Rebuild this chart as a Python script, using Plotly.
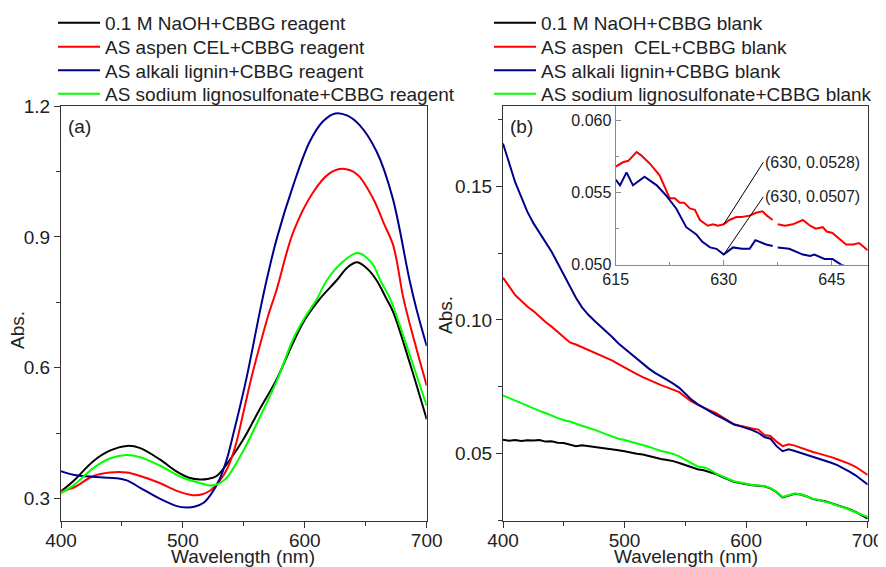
import plotly.graph_objects as go

# ---------------- Panel (a): reagent spectra ----------------
wl_a_black = [400, 410, 426.5, 440, 454, 465, 481, 495, 505, 514, 520, 527.7, 540, 549.6, 563, 577, 590, 600, 612, 626, 635, 643, 652, 659, 667, 672.6, 686, 700]
abs_a_black = [0.317, 0.34, 0.386, 0.41, 0.421, 0.416, 0.39, 0.362, 0.348, 0.344, 0.345, 0.352, 0.395, 0.436, 0.505, 0.574, 0.655, 0.71, 0.757, 0.80, 0.830, 0.842, 0.825, 0.80, 0.758, 0.727, 0.612, 0.482]

wl_a_red = [400, 410, 426.5, 440, 454, 465, 481, 495, 508.5, 516, 523, 530, 536.6, 543, 549.6, 556, 563, 570, 577, 590.5, 607, 620, 631, 643, 656, 665, 672.6, 681, 690, 700]
abs_a_red = [0.317, 0.325, 0.352, 0.36, 0.36, 0.352, 0.336, 0.318, 0.308, 0.31, 0.32, 0.34, 0.37, 0.42, 0.497, 0.575, 0.65, 0.72, 0.78, 0.911, 1.003, 1.045, 1.056, 1.043, 0.988, 0.93, 0.88, 0.758, 0.66, 0.559]

wl_a_blue = [400, 410, 426.5, 445, 454, 465, 481, 495, 503, 510, 516.7, 523, 530, 536, 541, 552, 563, 568.6, 577, 590.5, 604, 615, 625, 635, 645, 659, 672, 686, 692, 700]
abs_a_blue = [0.363, 0.355, 0.35, 0.347, 0.342, 0.325, 0.30, 0.283, 0.28, 0.282, 0.29, 0.31, 0.344, 0.39, 0.444, 0.574, 0.727, 0.80, 0.896, 1.018, 1.118, 1.165, 1.183, 1.178, 1.156, 1.095, 0.99, 0.80, 0.73, 0.65]

wl_a_green = [400, 410, 426.5, 440, 454, 465, 481, 500, 514, 523, 530, 536.6, 549.6, 563, 577, 590.5, 600, 610, 618, 630, 643.4, 655, 662, 670, 686, 700]
abs_a_green = [0.313, 0.33, 0.37, 0.392, 0.40, 0.395, 0.376, 0.348, 0.336, 0.33, 0.335, 0.35, 0.41, 0.486, 0.57, 0.666, 0.715, 0.758, 0.80, 0.84, 0.863, 0.84, 0.80, 0.758, 0.63, 0.513]

names_a = ["0.1 M NaOH+CBBG reagent", "AS aspen CEL+CBBG reagent",
           "AS alkali lignin+CBBG reagent", "AS sodium lignosulfonate+CBBG reagent"]

# ---------------- Panel (b): blank spectra ----------------
wl_b = list(range(400, 701, 5))
abs_b_black = [0.0552, 0.0548, 0.0551, 0.0547, 0.0550, 0.0549, 0.0551, 0.0545, 0.0546, 0.0541,
               0.0540, 0.0533, 0.0528, 0.0531, 0.0528, 0.0527, 0.0523, 0.0521, 0.0516, 0.0513,
               0.0509, 0.0504, 0.0500, 0.0497, 0.0491, 0.0485, 0.0480, 0.0476, 0.0472, 0.0465,
               0.0458, 0.0449, 0.0442, 0.0438, 0.0432, 0.0424, 0.0413, 0.0404, 0.0395, 0.0390,
               0.0385, 0.0382, 0.0380, 0.0378, 0.0370, 0.0356, 0.0336, 0.0344, 0.0350, 0.0347,
               0.0340, 0.0330, 0.0326, 0.0322, 0.0315, 0.0308, 0.0301, 0.0292, 0.0282, 0.0270, 0.0257]
abs_b_red = [0.1158, 0.1125, 0.1093, 0.1072, 0.1050, 0.1033, 0.1012, 0.0992, 0.0975, 0.0955,
             0.0934, 0.0916, 0.0908, 0.0898, 0.0889, 0.0878, 0.0868, 0.0860, 0.0848, 0.0835,
             0.0822, 0.0808, 0.0797, 0.0786, 0.0775, 0.0765, 0.0756, 0.0748, 0.0740, 0.0730,
             0.0712, 0.0695, 0.0683, 0.0671, 0.0662, 0.0652, 0.0638, 0.0622, 0.0610, 0.0604,
             0.0598, 0.0594, 0.0590, 0.0570, 0.0566, 0.0545, 0.0528, 0.0535, 0.0530, 0.0522,
             0.0512, 0.0506, 0.0500, 0.0494, 0.0487, 0.0479, 0.0471, 0.0462, 0.0451, 0.0436, 0.0420]
abs_b_blue = [0.1660, 0.1585, 0.1515, 0.1460, 0.1405, 0.1362, 0.1325, 0.1290, 0.1255, 0.1212,
              0.1168, 0.1125, 0.1083, 0.1047, 0.1020, 0.0998, 0.0978, 0.0955, 0.0935, 0.0912,
              0.0893, 0.0876, 0.0855, 0.0835, 0.0818, 0.0802, 0.0790, 0.0776, 0.0762, 0.0746,
              0.0724, 0.0702, 0.0685, 0.0671, 0.0660, 0.0645, 0.0634, 0.0620, 0.0609, 0.0603,
              0.0596, 0.0588, 0.0578, 0.0562, 0.0556, 0.0528, 0.0509, 0.0516, 0.0510, 0.0503,
              0.0496, 0.0488, 0.0481, 0.0474, 0.0466, 0.0457, 0.0446, 0.0433, 0.0419, 0.0402, 0.0385]
abs_b_green = [0.0718, 0.0708, 0.0700, 0.0688, 0.0678, 0.0669, 0.0660, 0.0652, 0.0641, 0.0633,
               0.0625, 0.0620, 0.0612, 0.0603, 0.0597, 0.0590, 0.0580, 0.0572, 0.0564, 0.0556,
               0.0551, 0.0545, 0.0540, 0.0533, 0.0526, 0.0518, 0.0510, 0.0505, 0.0499, 0.0490,
               0.0478, 0.0466, 0.0452, 0.0449, 0.0440, 0.0426, 0.0415, 0.0406, 0.0397, 0.0392,
               0.0387, 0.0383, 0.0381, 0.0379, 0.0371, 0.0357, 0.0338, 0.0345, 0.0351, 0.0348,
               0.0340, 0.0331, 0.0327, 0.0321, 0.0314, 0.0306, 0.0299, 0.0291, 0.0281, 0.0272, 0.0263]

names_b = ["0.1 M NaOH+CBBG blank", "AS aspen  CEL+CBBG blank",
           "AS alkali lignin+CBBG blank", "AS sodium lignosulfonate+CBBG blank"]

# ---------------- Inset (zoom of panel b, 615-650 nm) ----------------
wl_in_red = [615, 616, 616.75, 617.9, 618.5, 619.75, 621.1, 622, 622.5, 623.2, 623.9, 624.5, 625.3, 626, 626.7,
             627.8, 628.5, 629.2, 630, 630.8, 631.75, 632.5, 633.6, 634.5, 635.4, 636, 636.8, None,
             637.5, 638.5, 639.6, 641, 642, 642.8, 643.75, 644.3, 645.1, 646, 647, 648, 648.8, 650]
abs_in_red = [0.0568, 0.0571, 0.0572, 0.0578, 0.0576, 0.0570, 0.0562, 0.0552, 0.0546, 0.0546, 0.0543, 0.0543, 0.0539, 0.0538, 0.0531,
              0.0527, 0.0528, 0.0527, 0.0528, 0.0531, 0.0533, 0.0533, 0.0534, 0.0536, 0.0537, 0.0534, 0.0531, None,
              0.0528, 0.0527, 0.0528, 0.0531, 0.0527, 0.0525, 0.0526, 0.0523, 0.0522, 0.0518, 0.0514, 0.0514, 0.0515, 0.0510]
wl_in_blue = [615, 615.6, 616.5, 617.4, 619, 620.7, 622, 623.4, 624.8, 626.2, 627, 628.1, 629, 630, 631.3, 632.5,
              633.6, 634.4, 635.9, 636.8, None, 637.5, 639.1, 641, 642, 642.6, 644, 645.1, 646.3, 648, 650]
abs_in_blue = [0.0559, 0.0555, 0.0564, 0.0555, 0.0561, 0.0555, 0.0548, 0.0539, 0.0526, 0.0521, 0.0516, 0.0512, 0.0511, 0.0507, 0.0512, 0.0511,
               0.0511, 0.0517, 0.0514, 0.0513, None, 0.0512, 0.0511, 0.0507, 0.0506, 0.0507, 0.0504, 0.0504, 0.0500, 0.0497, 0.0494]
callout_x = [630, 630]
callout_y = [0.0528, 0.0507]

colors = ["#000000", "#ff0000", "#00008b", "#00ff00"]
FONT = "Liberation Sans, Arial, sans-serif"
TXT = "#222222"

fig = go.Figure()

a_series = [(wl_a_black, abs_a_black), (wl_a_red, abs_a_red), (wl_a_blue, abs_a_blue), (wl_a_green, abs_a_green)]
for i, (xs, ys) in enumerate(a_series):
    fig.add_trace(go.Scatter(x=xs, y=ys, mode="lines", name=names_a[i],
                             line=dict(color=colors[i], width=2, shape="spline", smoothing=1.0),
                             xaxis="x", yaxis="y", legend="legend" if i == 0 else f"legend{i+1}"))

b_series = [abs_b_black, abs_b_red, abs_b_blue, abs_b_green]
for i, ys in enumerate(b_series):
    fig.add_trace(go.Scatter(x=wl_b, y=ys, mode="lines", name=names_b[i],
                             line=dict(color=colors[i], width=2),
                             xaxis="x2", yaxis="y2", legend=f"legend{i+5}"))

fig.add_trace(go.Scatter(x=wl_in_red, y=abs_in_red, mode="lines", line=dict(color=colors[1], width=2),
                         xaxis="x3", yaxis="y3", showlegend=False, connectgaps=False))
fig.add_trace(go.Scatter(x=wl_in_blue, y=abs_in_blue, mode="lines", line=dict(color=colors[2], width=2),
                         xaxis="x3", yaxis="y3", showlegend=False, connectgaps=False))

W, H = 886, 567
OFF = 8  # page body margin in the browser
def px(xp):
    return (xp - OFF) / W
def py(yp):
    return 1 - (yp - OFF) / H

axis_common = dict(showline=True, mirror=True, linecolor="#333333", linewidth=1.3,
                   ticks="outside", ticklen=6, tickwidth=1.2, tickcolor="#333333",
                   showgrid=False, zeroline=False, automargin=False,
                   tickfont=dict(family=FONT, size=19, color=TXT))
inset_common = dict(showline=True, mirror=False, linecolor="#8a8a8a", linewidth=1.3,
                    ticks="inside", ticklen=5, tickcolor="#8a8a8a",
                    showgrid=False, zeroline=False, automargin=False,
                    tickfont=dict(family=FONT, size=16, color=TXT))

ydom = [py(520.5), py(106)]
fig.update_layout(
    template="none",
    width=W, height=H, margin=dict(l=0, r=0, t=0, b=0, autoexpand=False),
    paper_bgcolor="white", plot_bgcolor="white",
    font=dict(family=FONT, size=19, color=TXT),
    xaxis=dict(domain=[px(61), px(426.7)], range=[400, 700], dtick=100, tick0=400,
               minor=dict(ticks="outside", ticklen=4, dtick=50, tickcolor="#333333"),
               anchor="y", ticklabelstandoff=-3, **axis_common),
    yaxis=dict(domain=ydom, range=[0.25, 1.2], dtick=0.3, tick0=0.3, tickformat=".1f",
               minor=dict(ticks="outside", ticklen=4, dtick=0.15, tickcolor="#333333"),
               anchor="x", **axis_common),
    xaxis2=dict(domain=[px(503), px(867.7)], range=[400, 700], dtick=100, tick0=400,
                minor=dict(ticks="outside", ticklen=4, dtick=50, tickcolor="#333333"),
                anchor="y2", ticklabelstandoff=-3, **axis_common),
    yaxis2=dict(domain=ydom, range=[0.025, 0.18], dtick=0.05, tick0=0.05, tickformat=".2f",
                minor=dict(ticks="outside", ticklen=4, dtick=0.025, tickcolor="#333333"),
                anchor="x2", **axis_common),
    xaxis3=dict(domain=[px(615.7), px(867.7)], range=[615, 650], dtick=15, tick0=615,
                minor=dict(ticks="inside", ticklen=3, dtick=7.5, tickcolor="#8a8a8a"),
                anchor="y3", **inset_common),
    yaxis3=dict(domain=[py(264.7), py(106)], range=[0.050, 0.061], dtick=0.005, tick0=0.05,
                tickformat=".3f",
                minor=dict(ticks="inside", ticklen=3, dtick=0.0025, tickcolor="#8a8a8a"),
                anchor="x3", **inset_common),
)

# one legend per entry so that spacing matches the reference
leg_rows = [23, 47, 70.5, 94]
leg_text_left = [107, 543]
ITEMW = 42
for p in range(2):
    for r in range(4):
        idx = p * 4 + r + 1
        key = "legend" if idx == 1 else f"legend{idx}"
        fig.layout[key] = dict(x=px(leg_text_left[p] - 12 - ITEMW), y=py(leg_rows[r]),
                               xanchor="left", yanchor="middle",
                               bgcolor="rgba(0,0,0,0)", borderwidth=0,
                               font=dict(family=FONT, size=19, color=TXT),
                               itemwidth=ITEMW)

# axis titles
for (tx, ty, ang, t) in [(242.5, 556, 0, "Wavelength (nm)"), (686, 556, 0, "Wavelength (nm)"),
                         (17, 330, -90, "Abs."), (445, 315, -90, "Abs.")]:
    fig.add_annotation(text=t, x=px(tx), y=py(ty), xref="paper", yref="paper",
                       xanchor="center", yanchor="middle", textangle=ang, showarrow=False,
                       font=dict(size=19, color=TXT))

# panel labels
fig.add_annotation(text="(a)", x=px(66), y=py(126), xref="paper", yref="paper",
                   xanchor="left", yanchor="middle", showarrow=False, font=dict(size=19, color=TXT))
fig.add_annotation(text="(b)", x=px(508), y=py(126), xref="paper", yref="paper",
                   xanchor="left", yanchor="middle", showarrow=False, font=dict(size=19, color=TXT))

# inset callouts
callout_offsets = [(5.5, 0.0043), (5.5, 0.0040)]
for cx, cy, (dx, dy) in zip(callout_x, callout_y, callout_offsets):
    fig.add_annotation(x=cx, y=cy, xref="x3", yref="y3",
                       ax=cx + dx, ay=cy + dy, axref="x3", ayref="y3",
                       text=f"({cx}, {cy})", showarrow=True, arrowhead=0, arrowwidth=1,
                       arrowcolor="#000000", xanchor="left", yanchor="middle",
                       font=dict(size=16, color=TXT))

fig.write_html("out.html")
